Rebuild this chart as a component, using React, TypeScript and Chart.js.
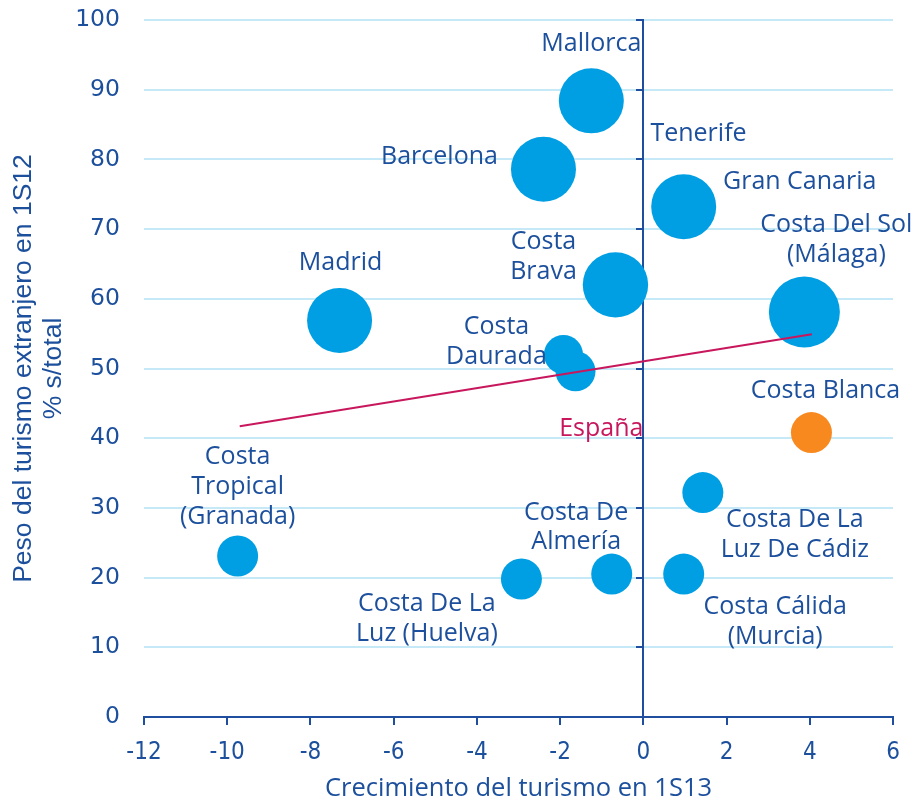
import React, { useEffect, useRef } from "react";
import { Chart, registerables } from "chart.js";

Chart.register(...registerables);

// ---- data ----
const places = [
  "Mallorca",
  "Barcelona",
  "Gran Canaria",
  "Costa Brava",
  "Costa Del Sol (Málaga)",
  "Madrid",
  "Costa Daurada",
  "Tenerife",
  "Costa Blanca",
  "Costa De La Luz De Cádiz",
  "Costa Tropical (Granada)",
  "Costa De La Luz (Huelva)",
  "Costa De Almería",
  "Costa Cálida (Murcia)",
];
const growth1S13 = [-1.25, -2.4, 0.97, -0.67, 3.87, -7.3, -1.92, -1.63, 4.04, 1.43, -9.75, -2.93, -0.76, 0.97];
const foreignShare1S12 = [88.4, 78.6, 73.2, 62.0, 58.1, 56.9, 52.0, 49.6, 40.8, 32.2, 23.1, 19.8, 20.5, 20.5];
const bubbleRadius = [32.5, 32.5, 32.5, 32.7, 35.5, 32.5, 19.5, 20, 20.5, 20.5, 20.5, 20.5, 20.5, 20.5];
const highlighted = "Costa Blanca";

const trendX = [-9.7, 4.05];
const trendY = [41.7, 54.9];
const trendName = "España";

const xTicks = { min: -12, max: 6, step: 2 };
const yTicks = { min: 0, max: 100, step: 10 };
const crossAt = 0; // vertical axis crosses at x = 0

// ---- styles ----
const BLUE = "#009FE3";
const ORANGE = "#F7891F";
const TEXT = "#1C4F9C";
const AXIS = "#1F4E9E";
const GRID = "#C6E9F8";
const CRIMSON = "#C8175D";

// label layout: pixel offsets from the bubble centre to the centre of the first line's capitals
const labelLayout: { lines: string[]; dx: number; dy: number }[] = [
  { lines: ["Mallorca"], dx: 0, dy: -59 },
  { lines: ["Barcelona"], dx: -104, dy: -14 },
  { lines: ["Gran Canaria"], dx: 116, dy: -27 },
  { lines: ["Costa", "Brava"], dx: -72, dy: -44.5 },
  { lines: ["Costa Del Sol", "(Málaga)"], dx: 32, dy: -89 },
  { lines: ["Madrid"], dx: 1, dy: -59 },
  { lines: ["Costa", "Daurada"], dx: -67, dy: -29 },
  { lines: ["Tenerife"], dx: 123, dy: -239 },
  { lines: ["Costa Blanca"], dx: 14, dy: -44 },
  { lines: ["Costa De La", "Luz De Cádiz"], dx: 92, dy: 25.7 },
  { lines: ["Costa", "Tropical", "(Granada)"], dx: 0, dy: -100.7 },
  { lines: ["Costa De La", "Luz (Huelva)"], dx: -94.5, dy: 23 },
  { lines: ["Costa De", "Almería"], dx: -35.5, dy: -63.5 },
  { lines: ["Costa Cálida", "(Murcia)"], dx: 91.5, dy: 31.3 },
];
const trendLabelOffset = { dx: -42, dy: 65.3 };

const LABEL_FONT = "25px 'Open Sans'";
const LABEL_LINE = 29.7;
const CAP_HALF = 8.9;

const crossAxisPlugin = {
  id: "crossAxis",
  beforeDatasetsDraw(chart: any) {
    const ctx = chart.ctx;
    const xs = chart.scales.x;
    const ys = chart.scales.y;
    const px = Math.round(xs.getPixelForValue(crossAt));
    ctx.save();
    ctx.strokeStyle = AXIS;
    ctx.lineWidth = 2;
    ctx.beginPath();
    ctx.moveTo(px, ys.top - 1);
    ctx.lineTo(px, ys.bottom);
    ys.ticks.forEach((t: any) => {
      const py = Math.round(ys.getPixelForValue(t.value));
      ctx.moveTo(px, py);
      ctx.lineTo(px - 7, py);
    });
    ctx.stroke();
    ctx.restore();
  },
};

const labelsPlugin = {
  id: "bubbleLabels",
  afterDatasetsDraw(chart: any) {
    const ctx = chart.ctx;
    const meta = chart.getDatasetMeta(1);
    ctx.save();
    ctx.font = LABEL_FONT;
    ctx.textAlign = "center";
    ctx.textBaseline = "alphabetic";
    ctx.fillStyle = TEXT;
    meta.data.forEach((el: any, i: number) => {
      const lay = labelLayout[i];
      if (!lay) return;
      lay.lines.forEach((ln, k) => {
        ctx.fillText(ln, el.x + lay.dx, el.y + lay.dy + k * LABEL_LINE + CAP_HALF);
      });
    });
    // España label, anchored to the trend line's value at the crossing axis
    const xs = chart.scales.x;
    const ys = chart.scales.y;
    const slope = (trendY[1] - trendY[0]) / (trendX[1] - trendX[0]);
    const yAtCross = trendY[0] + slope * (crossAt - trendX[0]);
    const px = xs.getPixelForValue(crossAt);
    const py = ys.getPixelForValue(yAtCross);
    ctx.fillStyle = CRIMSON;
    ctx.fillText(trendName, px + trendLabelOffset.dx, py + trendLabelOffset.dy + CAP_HALF);
    ctx.restore();
  },
};

export default function App() {
  const ref = useRef<HTMLCanvasElement | null>(null);

  useEffect(() => {
    document.body.style.margin = "0";
    const canvas = ref.current;
    if (!canvas) return;

    const chart = new Chart(canvas, {
      type: "bubble",
      data: {
        datasets: [
          {
            type: "line",
            label: trendName,
            data: trendX.map((x, i) => ({ x, y: trendY[i] })),
            borderColor: CRIMSON,
            borderWidth: 2,
            pointRadius: 0,
            fill: false,
            order: 0,
          } as any,
          {
            label: "Destinos",
            data: places.map((_, i) => ({ x: growth1S13[i], y: foreignShare1S12[i], r: bubbleRadius[i] })),
            backgroundColor: places.map((p) => (p === highlighted ? ORANGE : BLUE)),
            borderWidth: 0,
            hoverRadius: 0,
            order: 1,
          },
        ],
      },
      options: {
        responsive: false,
        animation: false,
        devicePixelRatio: 1,
        layout: { autoPadding: false, padding: { top: 20, right: 21, left: 0, bottom: 0 } },
        plugins: { legend: { display: false }, tooltip: { enabled: false } },
        scales: {
          x: {
            type: "linear",
            position: "bottom",
            min: xTicks.min,
            max: xTicks.max,
            ticks: {
              stepSize: xTicks.step,
              color: TEXT,
              font: { family: "'Liberation Sans Narrow', 'DejaVu Sans Condensed', 'Liberation Sans', sans-serif", size: 24 },
              padding: 13,
            },
            grid: { drawOnChartArea: false, drawTicks: true, tickLength: 8, color: AXIS, lineWidth: 2 },
            border: { display: true, color: AXIS, width: 2 },
            title: {
              display: true,
              text: "Crecimiento del turismo en 1S13",
              color: TEXT,
              font: { family: "'Open Sans'", size: 25.5, lineHeight: 0.9 },
              padding: { top: 0, bottom: 0 },
            },
            afterFit: (s: any) => {
              s.height = 83;
              s.paddingLeft = 0;
              s.paddingRight = 0;
            },
          },
          y: {
            type: "linear",
            position: "left",
            min: yTicks.min,
            max: yTicks.max,
            ticks: {
              stepSize: yTicks.step,
              color: TEXT,
              font: { family: "'DejaVu Sans'", size: 23.5 },
              padding: 24,
            },
            grid: { color: GRID, lineWidth: 2, drawTicks: false },
            border: { display: false },
            title: {
              display: true,
              text: ["Peso del turismo extranjero en 1S12", "% s/total"],
              color: TEXT,
              font: { family: "'Liberation Sans'", size: 26.5, lineHeight: 1.132 },
              padding: { top: 9, bottom: 0 },
            },
            afterFit: (s: any) => {
              s.width = 144;
              s.paddingTop = 0;
              s.paddingBottom = 0;
            },
          },
        },
      } as any,
      plugins: [crossAxisPlugin, labelsPlugin],
    });

    return () => chart.destroy();
  }, []);

  return <canvas ref={ref} width={914} height={800} style={{ display: "block" }} />;
}
